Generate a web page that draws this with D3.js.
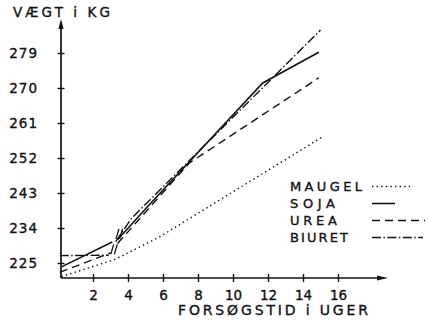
<!DOCTYPE html>
<html><head><meta charset="utf-8">
<script src="https://cdn.jsdelivr.net/npm/d3@7"></script>
<style>body{margin:0;background:#fff}svg{display:block}text{font-family:"DejaVu Sans",sans-serif;fill:#111;stroke:#111;stroke-width:0.35}</style>
</head><body>
<script>
// ---- data ----
const xTicks = [2, 4, 6, 8, 10, 12, 14, 16];
const yTicks = [225, 234, 243, 252, 261, 270, 279];
const seriesNames = ["MAUGEL", "SOJA", "UREA", "BIURET"];

const mangelWeeks = [0.2, 3.3, 5.8, 15.1];
const mangelValues = [221.5, 226.0, 231.7, 257.4];

const sojaWeeksA = [0.2, 3.1];
const sojaValuesA = [224.0, 230.4];
const sojaWeeksB = [3.4, 5.1, 11.7, 14.9];
const sojaValuesB = [231.0, 239.4, 271.3, 279.2];

const ureaWeeksA = [0.1, 3.0];
const ureaValuesA = [222.6, 227.6];
const ureaWeeksB = [3.4, 7.5, 14.9];
const ureaValuesB = [230.0, 250.7, 272.6];

const biuretWeeksA = [0.1, 2.9];
const biuretValuesA = [226.9, 227.0];
const biuretWeeksB = [3.3, 4.2, 15.0];
const biuretValuesB = [230.5, 236.5, 284.9];

// ---- chart ----
const W = 428, H = 320;
const svg = d3.select("body").append("svg").attr("width", W).attr("height", H);
const x = d3.scaleLinear().domain([0, 16]).range([58, 338]);
const y = d3.scaleLinear().domain([225, 279]).range([263, 53]);
const axX = 61, axY = 278;
const ink = "#111";

// axes lines with arrows
svg.append("line").attr("x1", axX).attr("y1", axY).attr("x2", axX).attr("y2", 24)
  .attr("stroke", ink).attr("stroke-width", 1.7);
svg.append("path").attr("d", `M${axX},19 L${axX-2.6},29 L${axX+2.6},29 Z`).attr("fill", ink);
svg.append("line").attr("x1", axX).attr("y1", axY).attr("x2", 382).attr("y2", axY)
  .attr("stroke", ink).attr("stroke-width", 1.7);
svg.append("path").attr("d", `M388,${axY} L377,${axY-2.6} L377,${axY+2.6} Z`).attr("fill", ink);

// x axis ticks
const gx = svg.append("g").attr("transform", `translate(0,${axY})`)
  .call(d3.axisBottom(x).tickValues(xTicks).tickSize(4).tickPadding(8));
gx.select(".domain").remove();
gx.selectAll(".tick line").attr("y1", -4).attr("y2", 4).attr("stroke", ink).attr("stroke-width", 1.4);
gx.selectAll(".tick text").attr("font-size", 13.5).attr("font-family", "DejaVu Sans").attr("fill", ink);

// y axis ticks
const gy = svg.append("g").attr("transform", `translate(${axX},0)`)
  .call(d3.axisLeft(y).tickValues(yTicks).tickSize(4).tickPadding(19));
gy.select(".domain").remove();
gy.selectAll(".tick line").attr("x1", -3.5).attr("x2", 3.5).attr("stroke", ink).attr("stroke-width", 1.4);
gy.selectAll(".tick text").attr("font-size", 13.5).attr("font-family", "DejaVu Sans").attr("fill", ink)
  .attr("letter-spacing", 1);

// titles
svg.append("text").attr("x", 13).attr("y", 17).attr("font-size", 13.5)
  .attr("textLength", 97).attr("lengthAdjust", "spacing").text("VÆGT i KG");
svg.append("text").attr("x", 178).attr("y", 315).attr("font-size", 14)
  .attr("textLength", 190).attr("lengthAdjust", "spacing").text("FORSØGSTID i UGER");

// lines
const line = d3.line().x(d => x(d[0])).y(d => y(d[1]));
const zip = (a, b) => a.map((v, i) => [v, b[i]]);
const styles = {
  MAUGEL: "1.4,3.2",
  SOJA: null,
  UREA: "8,5",
  BIURET: "9,2.5,1.4,2.5"
};
const segs = [
  ["MAUGEL", zip(mangelWeeks, mangelValues)],
  ["SOJA", zip(sojaWeeksA, sojaValuesA)],
  ["SOJA", zip(sojaWeeksB, sojaValuesB)],
  ["UREA", zip(ureaWeeksA, ureaValuesA)],
  ["UREA", zip(ureaWeeksB, ureaValuesB)],
  ["BIURET", zip(biuretWeeksA, biuretValuesA)],
  ["BIURET", zip(biuretWeeksB, biuretValuesB)]
];
svg.append("g").selectAll("path").data(segs).join("path")
  .attr("d", d => line(d[1])).attr("fill", "none").attr("stroke", ink)
  .attr("stroke-width", d => d[0] === "SOJA" ? 1.6 : 1.4)
  .attr("stroke-dasharray", d => styles[d[0]]);

// break marks "//"
const breaks = [[3.2, 228.5], [3.5, 232.5]];
breaks.forEach(([w, v]) => {
  [-1.8, 1.8].forEach(o => {
    svg.append("line")
      .attr("x1", x(w) + o - 1.5).attr("y1", y(v) + 5)
      .attr("x2", x(w) + o + 1.5).attr("y2", y(v) - 5)
      .attr("stroke", ink).attr("stroke-width", 1.3);
  });
});

// legend
const legY = [191, 208, 225, 242];
const legLen = [72, 45, 47, 58];
const sampleEnd = { MAUGEL: 410, SOJA: 395, UREA: 425, BIURET: 423 };
seriesNames.forEach((n, i) => {
  svg.append("text").attr("x", 290).attr("y", legY[i]).attr("font-size", 13)
    .attr("textLength", legLen[i]).attr("lengthAdjust", "spacing").text(n);
  svg.append("line").attr("x1", 372).attr("x2", sampleEnd[n])
    .attr("y1", legY[i] - 4.5).attr("y2", legY[i] - 4.5)
    .attr("stroke", ink).attr("stroke-width", n === "SOJA" ? 1.6 : 1.3)
    .attr("stroke-dasharray", styles[n]);
});
</script>
</body></html>
